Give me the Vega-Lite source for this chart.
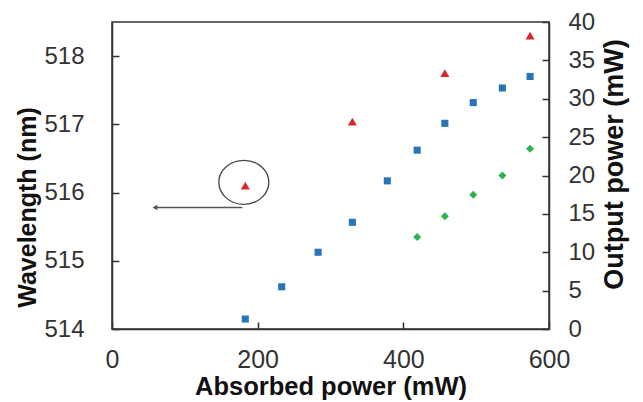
{
  "$schema": "https://vega.github.io/schema/vega-lite/v6.json",
  "width": 437,
  "height": 307,
  "autosize": {"type": "none"},
  "padding": {"left": 112, "top": 22, "right": 94, "bottom": 73},
  "background": "white",
  "config": {
    "font": "Liberation Sans",
    "view": {"stroke": "#333333", "strokeWidth": 1.5},
    "axis": {
      "grid": false,
      "labelFlush": false,
      "labelOverlap": false,
      "domainColor": "#333333",
      "domainWidth": 1.5,
      "tickColor": "#333333",
      "tickWidth": 1.5,
      "tickSize": -7,
      "labelFont": "Liberation Sans",
      "labelFontSize": 24,
      "labelColor": "#333333",
      "titleFont": "Liberation Sans",
      "titleFontSize": 25,
      "titleFontWeight": "bold",
      "titleColor": "#111111"
    }
  },
  "datasets": {
    "wavelength": [
      {"absorbed": 183, "wavelength": 516.1},
      {"absorbed": 330, "wavelength": 517.04},
      {"absorbed": 457, "wavelength": 517.75},
      {"absorbed": 574, "wavelength": 518.3}
    ],
    "circled": [
      {"absorbed": 181, "wavelength": 516.15}
    ],
    "arrow": [
      {"absorbed": 179, "absorbed_end": 58, "wavelength": 515.78}
    ],
    "arrowhead": [
      {"absorbed": 59, "wavelength": 515.78}
    ],
    "power": [
      {"absorbed": 183, "power": 1.3, "series": "A"},
      {"absorbed": 233, "power": 5.5, "series": "A"},
      {"absorbed": 283, "power": 10.0, "series": "A"},
      {"absorbed": 330, "power": 13.9, "series": "A"},
      {"absorbed": 378, "power": 19.3, "series": "A"},
      {"absorbed": 419, "power": 23.3, "series": "A"},
      {"absorbed": 457, "power": 26.8, "series": "A"},
      {"absorbed": 496, "power": 29.5, "series": "A"},
      {"absorbed": 536, "power": 31.4, "series": "A"},
      {"absorbed": 574, "power": 32.9, "series": "A"},
      {"absorbed": 419, "power": 12.0, "series": "B"},
      {"absorbed": 457, "power": 14.7, "series": "B"},
      {"absorbed": 496, "power": 17.5, "series": "B"},
      {"absorbed": 536, "power": 20.0, "series": "B"},
      {"absorbed": 574, "power": 23.5, "series": "B"}
    ]
  },
  "encoding": {
    "x": {
      "field": "absorbed",
      "type": "quantitative",
      "scale": {"domain": [0, 600], "nice": false, "zero": false},
      "axis": {
        "title": "Absorbed power (mW)",
        "values": [0, 200, 400, 600],
        "labelFontSize": 25,
        "labelPadding": 25,
        "titleFontSize": 25.5,
        "titleBaseline": "alphabetic",
        "titlePadding": 22
      }
    }
  },
  "layer": [
    {
      "encoding": {
        "y": {
          "field": "wavelength",
          "type": "quantitative",
          "scale": {"domain": [514, 518.5], "nice": false, "zero": false},
          "axis": {
            "orient": "left",
            "title": "Wavelength (nm)",
            "values": [514, 515, 516, 517, 518],
            "labelPadding": 35,
            "titlePadding": 3,
            "titleY": 185
          }
        }
      },
      "layer": [
        {
          "data": {"name": "wavelength"},
          "mark": {"type": "point", "shape": "triangle-up", "filled": true, "color": "#D9262B", "opacity": 1, "size": 80}
        },
        {
          "data": {"name": "circled"},
          "mark": {"type": "point", "shape": "M -1 0 A 1 0.88 0 1 1 1 0 A 1 0.88 0 1 1 -1 0 Z", "filled": false, "stroke": "#444444", "strokeWidth": 1.3, "opacity": 1, "size": 2500}
        },
        {
          "data": {"name": "arrow"},
          "mark": {"type": "rule", "color": "#555555", "strokeWidth": 1.6},
          "encoding": {
            "x2": {"field": "absorbed_end"}
          }
        },
        {
          "data": {"name": "arrowhead"},
          "mark": {"type": "point", "shape": "triangle-left", "filled": true, "color": "#555555", "opacity": 1, "size": 30}
        }
      ]
    },
    {
      "data": {"name": "power"},
      "mark": {"type": "point", "filled": true, "opacity": 1},
      "encoding": {
        "y": {
          "field": "power",
          "type": "quantitative",
          "scale": {"domain": [0, 40], "nice": false},
          "axis": {
            "orient": "right",
            "title": "Output power (mW)",
            "values": [0, 5, 10, 15, 20, 25, 30, 35, 40],
            "labelPadding": 26,
            "titlePadding": 7,
            "titleFontSize": 27,
            "titleAngle": -90,
            "titleBaseline": "top",
            "titleY": 142
          }
        },
        "color": {"field": "series", "type": "nominal", "scale": {"domain": ["A", "B"], "range": ["#2774B8", "#2DB24E"]}, "legend": null},
        "shape": {"field": "series", "type": "nominal", "scale": {"domain": ["A", "B"], "range": ["square", "diamond"]}, "legend": null},
        "size": {"field": "series", "type": "nominal", "scale": {"domain": ["A", "B"], "range": [50, 64]}, "legend": null}
      }
    }
  ],
  "resolve": {"scale": {"y": "independent"}}
}
